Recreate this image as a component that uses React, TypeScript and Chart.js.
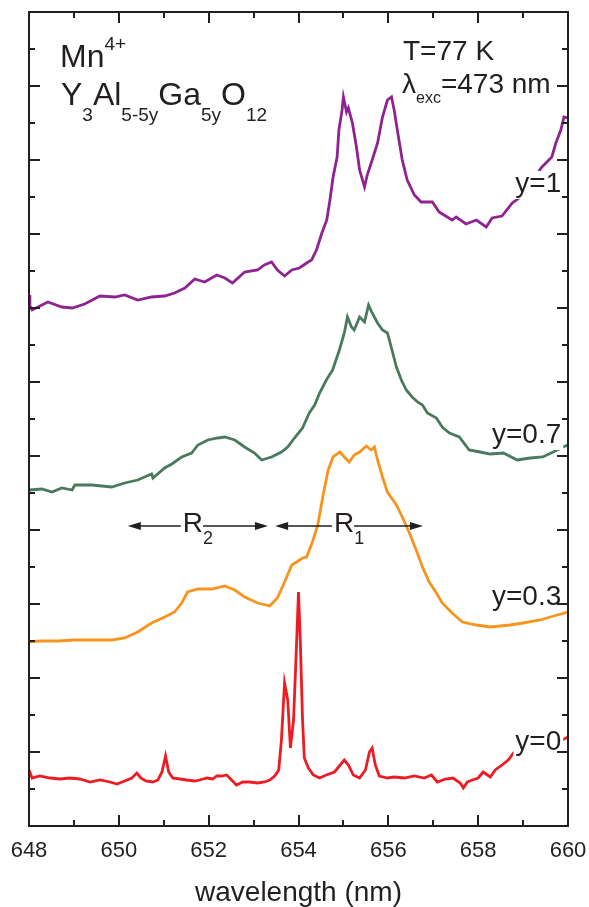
import React, { useEffect, useRef } from 'react';
import { Chart, registerables } from 'chart.js';
Chart.register(...registerables);

const FONT = '"Liberation Sans", Arial, Helvetica, sans-serif';
const INK = '#231f20';

const xMin = 648;
const xMax = 660;
const yMin = 0;
const yMax = 814;
const yStep = 37;
const xAxisTitle = 'wavelength (nm)';

const seriesLabels = ['y=0', 'y=0.3', 'y=0.7', 'y=1'];
const seriesColors = ['#ed1c24', '#f7941d', '#4a7a5e', '#8e2391'];

const redX = [648.00,648.07,648.24,648.47,648.69,648.91,649.13,649.36,649.58,649.80,649.96,650.13,650.29,650.40,650.49,650.60,650.76,650.87,650.96,651.04,651.11,651.20,651.36,651.51,651.69,651.80,651.96,652.09,652.18,652.29,652.40,652.51,652.62,652.76,652.91,653.09,653.24,653.36,653.47,653.56,653.62,653.69,653.76,653.82,653.89,653.96,654.00,654.04,654.09,654.13,654.22,654.33,654.47,654.62,654.80,654.91,655.02,655.11,655.22,655.36,655.49,655.58,655.64,655.71,655.80,655.98,656.13,656.36,656.58,656.80,656.96,657.09,657.27,657.44,657.60,657.67,657.76,657.87,658.00,658.11,658.27,658.38,658.53,658.67,658.80,658.89,659.04,659.27,659.49,659.71,659.87,660.00];
const redY = [56,48,50,48,47,48,47,44,46,44,42,45,48,53,48,45,44,46,54,70,54,48,47,46,45,46,48,47,50,50,51,46,41,44,44,43,44,46,50,56,86,143,126,78,106,186,234,186,106,68,58,51,48,51,54,60,66,61,51,48,56,74,78,61,50,48,49,48,50,48,51,44,47,48,43,38,44,46,48,54,49,56,61,66,74,76,78,79,81,84,86,89];

const orangeX = [648.00,648.24,648.64,649.02,649.40,649.84,650.13,650.42,650.73,651.02,651.24,651.40,651.53,651.76,652.07,652.36,652.58,652.80,653.09,653.36,653.53,653.69,653.85,653.96,654.09,654.18,654.31,654.43,654.54,654.66,654.77,654.92,655.02,655.13,655.24,655.36,655.51,655.62,655.69,655.76,655.87,655.98,656.18,656.31,656.47,656.62,656.76,656.91,657.07,657.20,657.42,657.65,657.96,658.27,658.71,659.00,659.38,659.76,660.00];
const orangeY = [184,185,185,186,186,186,188,194,203,209,214,223,234,237,237,240,236,229,223,220,228,244,261,264,268,269,284,301,329,356,369,374,369,364,371,374,380,376,379,366,349,334,321,309,293,276,259,244,233,223,213,204,201,199,201,203,206,211,214];

const greenX = [648.00,648.29,648.51,648.73,648.96,649.02,649.40,649.84,650.13,650.42,650.73,650.76,651.02,651.18,651.40,651.62,651.76,651.98,652.20,652.36,652.58,652.80,653.02,653.18,653.40,653.62,653.76,653.91,654.09,654.24,654.36,654.47,654.62,654.76,654.91,655.02,655.09,655.18,655.24,655.36,655.47,655.56,655.64,655.76,655.87,655.98,656.07,656.18,656.29,656.40,656.53,656.65,656.76,656.87,657.07,657.20,657.36,657.58,657.80,658.04,658.27,658.56,658.87,659.16,659.44,659.67,659.89,660.00];
const greenY = [336,337,334,338,336,341,341,339,343,346,352,348,358,362,369,373,381,386,388,389,386,379,373,366,369,374,379,388,398,413,421,433,446,456,476,493,509,499,496,509,504,521,513,503,496,493,478,459,446,436,429,424,421,413,408,399,393,389,376,374,372,373,366,368,369,374,379,381];

const purpleX = [648.00,648.02,648.07,648.42,648.73,648.96,649.24,649.58,649.91,650.13,650.42,650.73,651.02,651.24,651.47,651.69,651.91,652.18,652.36,652.53,652.80,653.09,653.24,653.40,653.53,653.69,653.85,654.02,654.18,654.29,654.40,654.52,654.63,654.70,654.77,654.86,654.90,654.97,655.00,655.07,655.11,655.20,655.29,655.36,655.47,655.53,655.64,655.76,655.87,655.98,656.07,656.13,656.20,656.31,656.42,656.58,656.73,656.98,657.13,657.42,657.51,657.73,657.96,658.18,658.31,658.53,658.76,658.91,659.07,659.24,659.42,659.64,659.73,659.84,659.91,660.00];
const purpleY = [531,520,516,524,519,518,522,530,529,531,526,529,530,533,538,547,544,551,548,543,554,556,561,564,556,550,556,558,563,566,576,593,606,626,649,669,696,716,729,714,718,703,679,656,639,651,666,683,709,726,729,716,696,666,646,631,624,624,614,606,609,602,606,599,608,610,623,628,639,648,659,669,683,696,709,708];

const seriesX = [redX, orangeX, greenX, purpleX];
const seriesY = [redY, orangeY, greenY, purpleY];
// label anchor (baseline) in data units for each series label
const labelBaseY = [76, 221, 383, 634];
const labelRightX = 659.85;

// R bands (nm) and arrow level
const r2Band = [650.2, 653.32];
const r1Band = [653.48, 656.77];
const arrowLevel = 300;

type Part = [string, number, number];
function rich(ctx: CanvasRenderingContext2D, x: number, y: number, parts: Part[]) {
  let cx = x;
  for (const [t, s, dy] of parts) {
    ctx.font = `${s}px ${FONT}`;
    ctx.fillText(t, cx, y + dy);
    cx += ctx.measureText(t).width;
  }
  return cx;
}

function arrowHead(ctx: CanvasRenderingContext2D, tipX: number, y: number, dir: number) {
  ctx.beginPath();
  ctx.moveTo(tipX, y);
  ctx.lineTo(tipX - dir * 13, y - 4);
  ctx.lineTo(tipX - dir * 13, y + 4);
  ctx.closePath();
  ctx.fill();
}

const decor = {
  id: 'decor',
  afterDatasetsDraw(chart: any) {
    const { ctx, chartArea: a, scales } = chart;
    const xs = scales.x;
    const ys = scales.y;
    ctx.save();
    ctx.fillStyle = INK;
    ctx.strokeStyle = INK;
    ctx.textBaseline = 'alphabetic';

    // series labels with white background
    ctx.font = `28px ${FONT}`;
    ctx.textAlign = 'right';
    seriesLabels.forEach((lab, i) => {
      const rx = xs.getPixelForValue(labelRightX);
      const by = ys.getPixelForValue(labelBaseY[i]);
      const w = ctx.measureText(lab).width;
      ctx.fillStyle = '#fff';
      ctx.fillRect(rx - w - 2, by - 21, w + 4, 28);
      ctx.fillStyle = INK;
      ctx.fillText(lab, rx, by);
    });
    ctx.textAlign = 'left';

    // top-left composition text
    rich(ctx, 60, 67, [['Mn', 32, 0], ['4+', 19, -17]]);
    rich(ctx, 61, 105, [['Y', 32, 0], ['3', 19, 16], ['Al', 32, 0], ['5-5y', 19, 16], ['Ga', 32, 0], ['5y', 19, 16], ['O', 32, 0], ['12', 19, 16]]);
    // conditions
    rich(ctx, 403, 60, [['T=77 K', 28, 0]]);
    rich(ctx, 402, 93, [['λ', 28, 0], ['exc', 16, 10], ['=473 nm', 28, 0]]);

    // R arrows
    const ay = ys.getPixelForValue(arrowLevel);
    const drawBand = (band: number[], sub: string) => {
      const l = xs.getPixelForValue(band[0]);
      const r = xs.getPixelForValue(band[1]);
      ctx.font = `28px ${FONT}`;
      const rw = ctx.measureText('R').width;
      ctx.font = `18px ${FONT}`;
      const sw = ctx.measureText(sub).width;
      const tw = rw + sw;
      const tx = (l + r) / 2 - tw / 2;
      ctx.lineWidth = 1.5;
      ctx.beginPath();
      ctx.moveTo(l + 6, ay);
      ctx.lineTo(tx - 2, ay);
      ctx.moveTo(tx + rw, ay);
      ctx.lineTo(r - 6, ay);
      ctx.stroke();
      arrowHead(ctx, l, ay, -1);
      arrowHead(ctx, r, ay, 1);
      rich(ctx, tx, ay + 6, [['R', 28, 0], [sub, 18, 12]]);
    };
    drawBand(r2Band, '2');
    drawBand(r1Band, '1');

    // frame
    ctx.lineWidth = 2;
    ctx.strokeRect(a.left, a.top, a.right - a.left, a.bottom - a.top);
    // x ticks (inward, top & bottom)
    ctx.beginPath();
    for (let v = xMin; v <= xMax; v += 1) {
      const px = Math.round(xs.getPixelForValue(v));
      const len = v % 2 === 0 ? 11 : 6;
      ctx.moveTo(px, a.bottom);
      ctx.lineTo(px, a.bottom - len);
      ctx.moveTo(px, a.top);
      ctx.lineTo(px, a.top + len);
    }
    // y ticks (inward, left & right)
    for (let v = yMin; v <= yMax; v += yStep) {
      const py = Math.round(ys.getPixelForValue(v));
      const len = Math.round(v / yStep) % 2 === 0 ? 11 : 6;
      ctx.moveTo(a.left, py);
      ctx.lineTo(a.left + len, py);
      ctx.moveTo(a.right, py);
      ctx.lineTo(a.right - len, py);
    }
    ctx.stroke();
    ctx.restore();
  },
};

export default function App() {
  const ref = useRef<HTMLCanvasElement>(null);
  useEffect(() => {
    const canvas = ref.current!;
    const chart = new Chart(canvas, {
      type: 'line',
      data: {
        datasets: seriesLabels.map((lab, i) => ({
          label: lab,
          data: seriesX[i].map((x, j) => ({ x, y: seriesY[i][j] })),
          borderColor: seriesColors[i],
          backgroundColor: seriesColors[i],
          borderWidth: 2.8,
          pointRadius: 0,
          tension: 0,
          fill: false,
        })),
      },
      options: {
        responsive: false,
        animation: false,
        devicePixelRatio: 1,
        layout: { padding: { left: 29, right: 21, top: 12, bottom: 0 } },
        plugins: { legend: { display: false }, tooltip: { enabled: false } },
        scales: {
          x: {
            type: 'linear',
            min: xMin,
            max: xMax,
            grid: { display: false, drawTicks: false },
            border: { display: false },
            ticks: {
              stepSize: 1,
              autoSkip: false,
              maxRotation: 0,
              padding: 12,
              color: INK,
              font: { size: 22, family: FONT },
              callback: (v: any) => (Number(v) % 2 === 0 ? String(v) : ''),
            },
            title: {
              display: true,
              text: xAxisTitle,
              color: INK,
              font: { size: 28, family: FONT, lineHeight: 1 },
              padding: 0,
            },
            afterFit: (s: any) => {
              s.height = 81;
              s.paddingLeft = 0;
              s.paddingRight = 0;
            },
          },
          y: { display: false, min: yMin, max: yMax },
        },
      },
      plugins: [decor],
    });
    return () => chart.destroy();
  }, []);
  return (
    <div style={{ position: 'fixed', left: 0, top: 0, width: 589, height: 907, background: '#fff' }}>
      <canvas ref={ref} width={589} height={907} style={{ display: 'block' }} />
    </div>
  );
}
